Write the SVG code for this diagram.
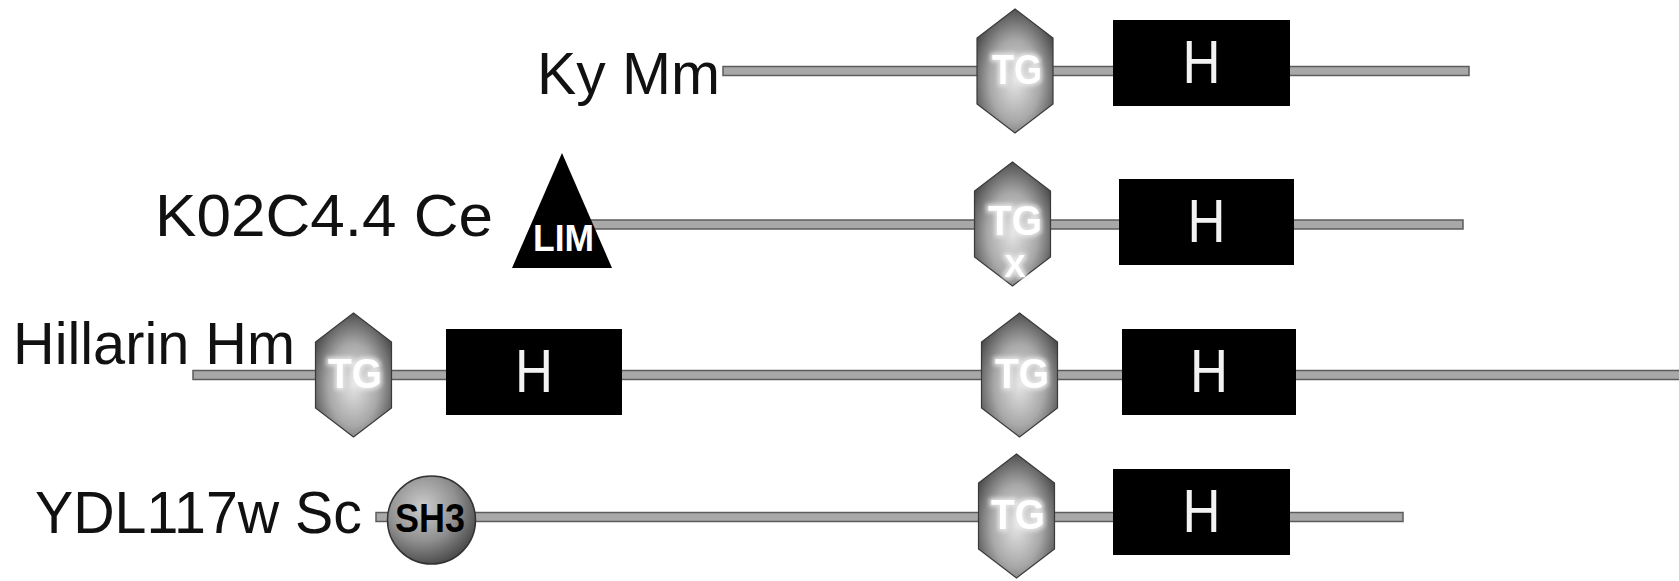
<svg xmlns="http://www.w3.org/2000/svg" width="1679" height="581" viewBox="0 0 1679 581">
<defs>
<radialGradient id="hexg" cx="50%" cy="58%" r="60%">
<stop offset="0" stop-color="#e4e4e4"/>
<stop offset="0.55" stop-color="#a8a8a8"/>
<stop offset="1" stop-color="#4a4a4a"/>
</radialGradient>
<radialGradient id="sh3g" cx="40%" cy="35%" r="65%">
<stop offset="0" stop-color="#cccccc"/>
<stop offset="0.6" stop-color="#909090"/>
<stop offset="1" stop-color="#505050"/>
</radialGradient>
<filter id="glow" x="-20%" y="-20%" width="140%" height="140%">
<feMorphology in="SourceAlpha" operator="dilate" radius="1.5" result="d"/>
<feGaussianBlur in="d" stdDeviation="2" result="b"/>
<feFlood flood-color="#ececec" flood-opacity="0.85"/>
<feComposite in2="b" operator="in" result="g"/>
<feMerge><feMergeNode in="g"/><feMergeNode in="SourceGraphic"/></feMerge>
</filter>
<polygon id="hex" points="0,-62 38,-33 38,33 0,62 -38,33 -38,-33"/>
</defs>
<style>
.bar{fill:#a8a8a8;stroke:#5c5c5c;stroke-width:1.5}
.hex{fill:url(#hexg);stroke:#3a3a3a;stroke-width:1.2}
.hbox{fill:#000}
.lbl{font-family:"Liberation Sans",Arial,sans-serif;font-size:60px;fill:#111}
.htxt{font-family:"Liberation Sans",Arial,sans-serif;font-size:62px;fill:#f2f2f2;text-anchor:middle}
.tg{font-family:"Liberation Sans",Arial,sans-serif;font-size:42px;font-weight:bold;fill:#fff;text-anchor:middle;filter:url(#glow)}
.lim{font-family:"Liberation Sans",Arial,sans-serif;font-size:36px;font-weight:bold;fill:#fff;text-anchor:middle}
.sh3{font-family:"Liberation Sans",Arial,sans-serif;font-size:40px;font-weight:bold;fill:#000;text-anchor:middle}
</style>
<rect width="1679" height="581" fill="#fff"/>
<g id="connectors">
<rect class="bar" x="723" y="66.5" width="746" height="9"/>
<rect class="bar" x="588" y="220" width="875" height="9"/>
<rect class="bar" x="193" y="370.5" width="1490" height="9"/>
<rect class="bar" x="376" y="512.5" width="1027" height="9"/>
</g>
<g id="labels">
<text class="lbl" x="537" y="94" textLength="183" lengthAdjust="spacingAndGlyphs">Ky Mm</text>
<text class="lbl" x="155" y="236" textLength="338" lengthAdjust="spacingAndGlyphs">K02C4.4 Ce</text>
<text class="lbl" x="13" y="364" textLength="282" lengthAdjust="spacingAndGlyphs">Hillarin Hm</text>
<text class="lbl" x="35" y="533" textLength="327" lengthAdjust="spacingAndGlyphs">YDL117w Sc</text>
</g>
<g id="row1-tg">
<use href="#hex" class="hex" x="1015" y="71"/>
<text class="tg" x="1017" y="84" textLength="50" lengthAdjust="spacingAndGlyphs">TG</text>
</g>
<g id="row1-h">
<rect class="hbox" x="1113" y="20" width="177" height="86"/>
<text class="htxt" x="1201.5" y="83" textLength="38" lengthAdjust="spacingAndGlyphs">H</text>
</g>
<g id="row2-lim">
<polygon points="562,153 612,268 512,268" fill="#000"/>
<text class="lim" x="563.5" y="251" textLength="61" lengthAdjust="spacingAndGlyphs">LIM</text>
</g>
<g id="row2-tgx">
<use href="#hex" class="hex" x="1012.5" y="224"/>
<text class="tg" x="1015" y="235" textLength="54" lengthAdjust="spacingAndGlyphs">TG</text>
<text class="tg" x="1015" y="277" style="font-size:32px">X</text>
</g>
<g id="row2-h">
<rect class="hbox" x="1119" y="179" width="175" height="86"/>
<text class="htxt" x="1206.5" y="242" textLength="38" lengthAdjust="spacingAndGlyphs">H</text>
</g>
<g id="row3-tg1">
<use href="#hex" class="hex" x="353.5" y="375"/>
<text class="tg" x="355" y="388" textLength="54" lengthAdjust="spacingAndGlyphs">TG</text>
</g>
<g id="row3-h1">
<rect class="hbox" x="446" y="329" width="176" height="86"/>
<text class="htxt" x="534" y="392" textLength="38" lengthAdjust="spacingAndGlyphs">H</text>
</g>
<g id="row3-tg2">
<use href="#hex" class="hex" x="1019.5" y="375"/>
<text class="tg" x="1022" y="388" textLength="54" lengthAdjust="spacingAndGlyphs">TG</text>
</g>
<g id="row3-h2">
<rect class="hbox" x="1122" y="329" width="174" height="86"/>
<text class="htxt" x="1209" y="392" textLength="38" lengthAdjust="spacingAndGlyphs">H</text>
</g>
<g id="row4-sh3">
<circle cx="431.5" cy="520" r="44" fill="url(#sh3g)" stroke="#333" stroke-width="1.5"/>
<text class="sh3" x="430" y="532" textLength="70" lengthAdjust="spacingAndGlyphs">SH3</text>
</g>
<g id="row4-tg">
<use href="#hex" class="hex" x="1016.5" y="516"/>
<text class="tg" x="1018" y="529" textLength="54" lengthAdjust="spacingAndGlyphs">TG</text>
</g>
<g id="row4-h">
<rect class="hbox" x="1113" y="469" width="177" height="86"/>
<text class="htxt" x="1201.5" y="532" textLength="38" lengthAdjust="spacingAndGlyphs">H</text>
</g>
</svg>
